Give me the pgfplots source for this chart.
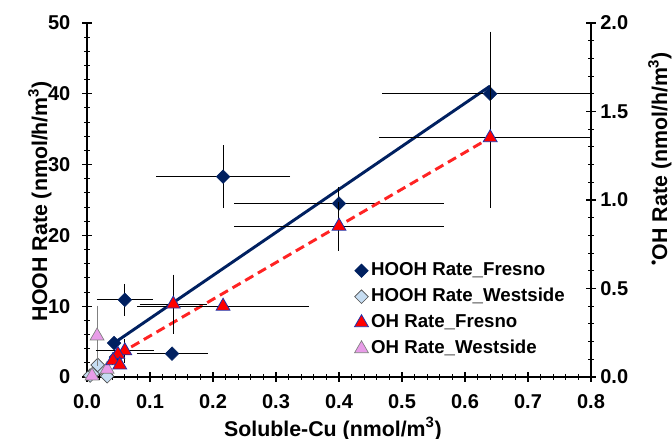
\documentclass[border=0pt]{standalone}
\usepackage{fontspec}
\setmainfont{Liberation Sans}
\usepackage{pgfplots}
\pgfplotsset{compat=1.18}

\definecolor{navyc}{RGB}{0,32,96}
\definecolor{lightb}{RGB}{198,221,242}
\definecolor{redc}{RGB}{255,0,0}
\definecolor{triedge}{RGB}{30,50,170}
\definecolor{pinkc}{RGB}{232,156,232}
\definecolor{dashred}{RGB}{255,35,35}

\pgfplotsset{
  base/.style={
    width=378pt, height=265.5pt, scale only axis,
    xmin=0, xmax=0.8,
    clip mode=individual,
    tick align=center, major tick length=7pt, minor tick length=4pt,
    major tick style={line width=1pt, black},
    minor tick style={line width=0.8pt, black},
    tick label style={font=\fontsize{15}{18}\selectfont\bfseries},
    /pgf/number format/assume math mode=true,
  },
  lines/.style={axis line style={-, line width=1.6pt, black},
    every outer x axis line/.append style={-},
    every outer y axis line/.append style={-},
    every inner x axis line/.append style={-},
    every inner y axis line/.append style={-}},
  markleg/.style={legend image code/.code={\draw[mark repeat=2,mark phase=2,##1] plot coordinates {(0cm,0cm)(0.15cm,0cm)(0.3cm,0cm)};}},
  ebars/.style={error bars/.cd, x dir=both, x explicit, y dir=both, y explicit,
    error bar style={line width=0.75pt, #1},
    error mark options={mark size=3pt, line width=0.75pt, #1}, /pgfplots/.cd},
  diam/.style={only marks, mark=square*, mark size=3.6pt, mark options={rotate=45, #1}},
  tri/.style={only marks, mark=triangle*, mark size=6pt, mark options={#1}},
}

\begin{document}
\begin{tikzpicture}
\useasboundingbox (-65.25pt,-46.5pt) rectangle (438.75pt,282.75pt);

% left axis: HOOH
\begin{axis}[base,
  ymin=0, ymax=50,
  axis x line=bottom, axis y line=left, lines,
  xtick={0,0.1,0.2,0.3,0.4,0.5,0.6,0.7,0.8}, minor x tick num=4,
  ytick={0,10,20,30,40,50}, minor y tick num=4,
  xticklabel style={yshift=-6pt, /pgf/number format/fixed, /pgf/number format/fixed zerofill, /pgf/number format/precision=1},
  yticklabel style={xshift=-5.5pt},
  xlabel={Soluble-Cu (nmol/m\textsuperscript{3})},
  ylabel={HOOH Rate (nmol/h/m\textsuperscript{3})},
  xlabel style={at={(axis description cs:0.488,-0.113)}, anchor=north, inner sep=0pt, font=\fontsize{16}{19}\selectfont\bfseries},
  ylabel style={at={(axis description cs:-0.070,0.497)}, anchor=south, inner sep=0pt, font=\fontsize{16}{19}\selectfont\bfseries},
]
\addplot[navyc, line width=2.2pt] coordinates {(0.043,4.8) (0.64,41.1)};

% HOOH Westside
\addplot[diam={fill=lightb, draw=black!70, line width=0.5pt}] coordinates {
  (0.005,0.2) (0.013,0.8) (0.021,1.3) (0.017,1.7) (0.032,0.1)
};

% HOOH Fresno
\addplot[diam={fill=navyc, draw=navyc}, ebars=black] coordinates {
  (0.640,40.0) += (0.160,8.2) -= (0.165,8.2)
  (0.400,24.5) +- (0.160,1.8)
  (0.216,28.3) +- (0.100,3.9)
  (0.060,10.9) +- (0.038,1.7)
  (0.135,3.3)  +- (0.050,0)
  (0.043,4.8)  +- (0,0)
  (0.046,2.8)  +- (0,0)
};
\end{axis}

% right axis: OH
\begin{axis}[base,
  ymin=0, ymax=2,
  axis x line=none, axis y line=right, lines,
  ytick={0,0.5,1,1.5,2}, minor y tick num=4,
  yticklabel style={/pgf/number format/fixed, /pgf/number format/fixed zerofill, /pgf/number format/precision=1},
  ylabel={\textsuperscript{\textbullet}OH Rate (nmol/h/m\textsuperscript{3})},
  ylabel style={at={(axis description cs:1.113,0.616)}, anchor=north, inner sep=0pt, font=\fontsize{16}{19}\selectfont\bfseries},
  legend cell align=left,
  legend style={at={(axis description cs:0.5304,0.333)}, anchor=north west,
    draw=none, fill=none, inner sep=0pt,
    font=\fontsize{14}{16.8}\selectfont\bfseries, row sep=2.5pt,
    nodes={text height=10pt, text depth=3pt, inner sep=2pt}},
]
\addlegendimage{diam={fill=navyc, draw=navyc}, markleg}
\addlegendentry{HOOH Rate\_Fresno}
\addlegendimage{diam={fill=lightb, draw=black!70, line width=0.5pt}, markleg}
\addlegendentry{HOOH Rate\_Westside}
\addlegendimage{tri={fill=redc, draw=triedge, line width=0.6pt}, markleg}
\addlegendentry{OH Rate\_Fresno}
\addlegendimage{tri={fill=pinkc, draw=black!50, line width=0.5pt}, markleg}
\addlegendentry{OH Rate\_Westside}

\addplot[dashred, line width=2.2pt, dash pattern=on 7pt off 4pt, forget plot] coordinates {(0.05,0.128) (0.64,1.352)};

% OH Westside
\addplot[forget plot, tri={fill=pinkc, draw=black!50, line width=0.5pt}, ebars=black!50] coordinates {
  (0.016,0.232) +- (0,0.148)
  (0.032,0.044) +- (0,0)
  (0.008,0.006) +- (0,0)
};

% OH Fresno
\addplot[forget plot, tri={fill=redc, draw=triedge, line width=0.6pt}, ebars=black] coordinates {
  (0.640,1.352) += (0.160,0.372) -= (0.170,0.372)
  (0.400,0.852) +- (0.160,0.116)
  (0.216,0.400) +- (0.130,0)
  (0.137,0.412) +- (0.047,0.144)
  (0.060,0.148) +- (0.040,0.044)
  (0.049,0.128) +- (0,0)
  (0.041,0.092) +- (0,0)
  (0.052,0.068) +- (0,0)
};
\end{axis}
\end{tikzpicture}
\end{document}
